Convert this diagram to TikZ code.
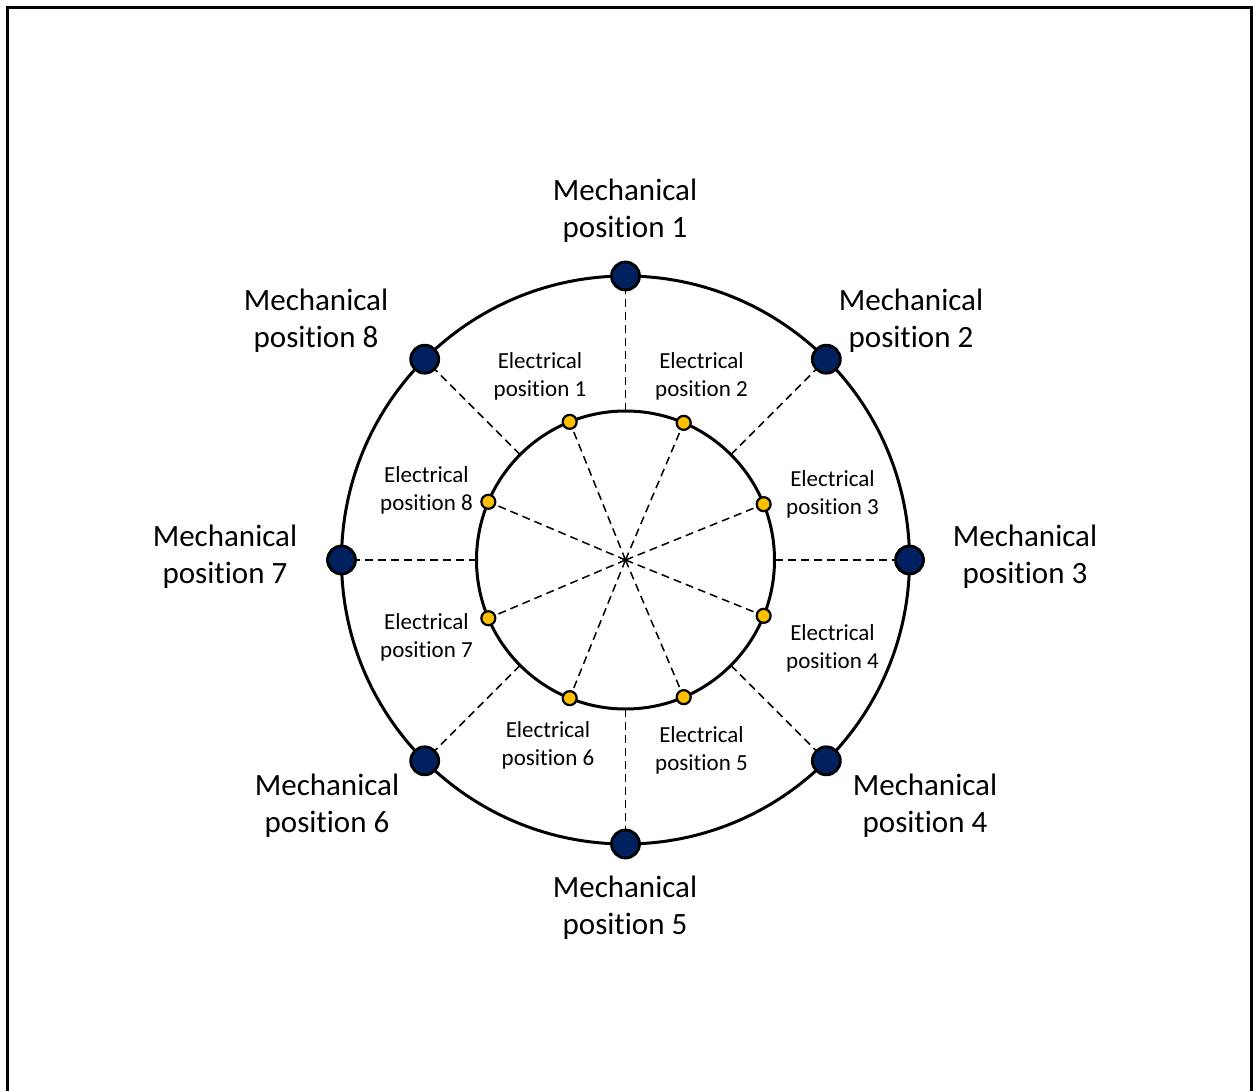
\documentclass[tikz,border=0pt]{standalone}
\usepackage{fontspec}
\setmainfont{Carlito}[Ligatures=NoCommon]
\definecolor{navyblue}{HTML}{002060}
\definecolor{goldyellow}{HTML}{FFC000}
\begin{document}
\begin{tikzpicture}[x=0.5pt,y=-0.5pt,
  ring/.style={circle,draw,line width=1.5pt,inner sep=0pt,outer sep=0pt},
  mdot/.style={circle,draw,fill=navyblue,line width=1.4pt,minimum size=14pt,inner sep=0pt},
  edot/.style={circle,draw,fill=goldyellow,line width=1.1pt,minimum size=7pt,inner sep=0pt},
  guide/.style={dash pattern=on 4pt off 2.5pt,line width=0.75pt},
  mlabel/.style={align=center,font=\fontsize{15.5}{18.5}\selectfont,inner sep=0pt},
  elabel/.style={align=center,font=\fontsize{11.5}{14}\selectfont,inner sep=0pt}]
\useasboundingbox (0,0) rectangle (1253,1091);
% frame (open at the bottom)
\draw[line width=1.5pt] (7,1091) -- (7,8) -- (1251,8) -- (1251,1091);
\coordinate (C) at (625.5,560);
\node[ring,minimum size=284pt] (outer) at (C) {};
\node[ring,minimum size=149pt] (inner) at (C) {};
% mechanical dots
\node[mdot] (M1) at (outer.90) {};
\node[mdot] (M2) at (outer.45) {};
\node[mdot] (M3) at (outer.0) {};
\node[mdot] (M4) at (outer.-45) {};
\node[mdot] (M5) at (outer.-90) {};
\node[mdot] (M6) at (outer.-135) {};
\node[mdot] (M7) at (outer.180) {};
\node[mdot] (M8) at (outer.135) {};
% electrical dots
\node[edot] (E1) at (inner.112.5) {};
\node[edot] (E2) at (inner.67.5) {};
\node[edot] (E3) at (inner.22.5) {};
\node[edot] (E4) at (inner.-22.5) {};
\node[edot] (E5) at (inner.-67.5) {};
\node[edot] (E6) at (inner.-112.5) {};
\node[edot] (E7) at (inner.-157.5) {};
\node[edot] (E8) at (inner.157.5) {};
% dashed guides
\foreach \e in {E1,E2,E3,E4,E5,E6,E7,E8} \draw[guide] (C) -- (\e);
\draw[guide] (inner.90) -- (M1);
\draw[guide] (inner.45) -- (M2);
\draw[guide] (inner.0) -- (M3);
\draw[guide] (inner.-45) -- (M4);
\draw[guide] (inner.-90) -- (M5);
\draw[guide] (inner.-135) -- (M6);
\draw[guide] (inner.180) -- (M7);
\draw[guide] (inner.135) -- (M8);
% mechanical labels
\node[mlabel] (L1) at (625,211) {Mechanical\\position 1};
\node[mlabel] (L2) at (911,321) {Mechanical\\position 2};
\node[mlabel] (L3) at (1025,557) {Mechanical\\position 3};
\node[mlabel] (L4) at (925,806) {Mechanical\\position 4};
\node[mlabel] (L5) at (625,908) {Mechanical\\position 5};
\node[mlabel] (L6) at (327,806) {Mechanical\\position 6};
\node[mlabel] (L7) at (225,557) {Mechanical\\position 7};
\node[mlabel] (L8) at (316,321) {Mechanical\\position 8};
% electrical labels
\node[elabel] (T1) at (540,376) {Electrical\\position 1};
\node[elabel] (T2) at (701.5,376) {Electrical\\position 2};
\node[elabel] (T3) at (832.5,494) {Electrical\\position 3};
\node[elabel] (T4) at (832.5,648) {Electrical\\position 4};
\node[elabel] (T5) at (701.5,750) {Electrical\\position 5};
\node[elabel] (T6) at (548,745) {Electrical\\position 6};
\node[elabel] (T7) at (426.5,637) {Electrical\\position 7};
\node[elabel] (T8) at (426.5,490) {Electrical\\position 8};
\end{tikzpicture}
\end{document}
